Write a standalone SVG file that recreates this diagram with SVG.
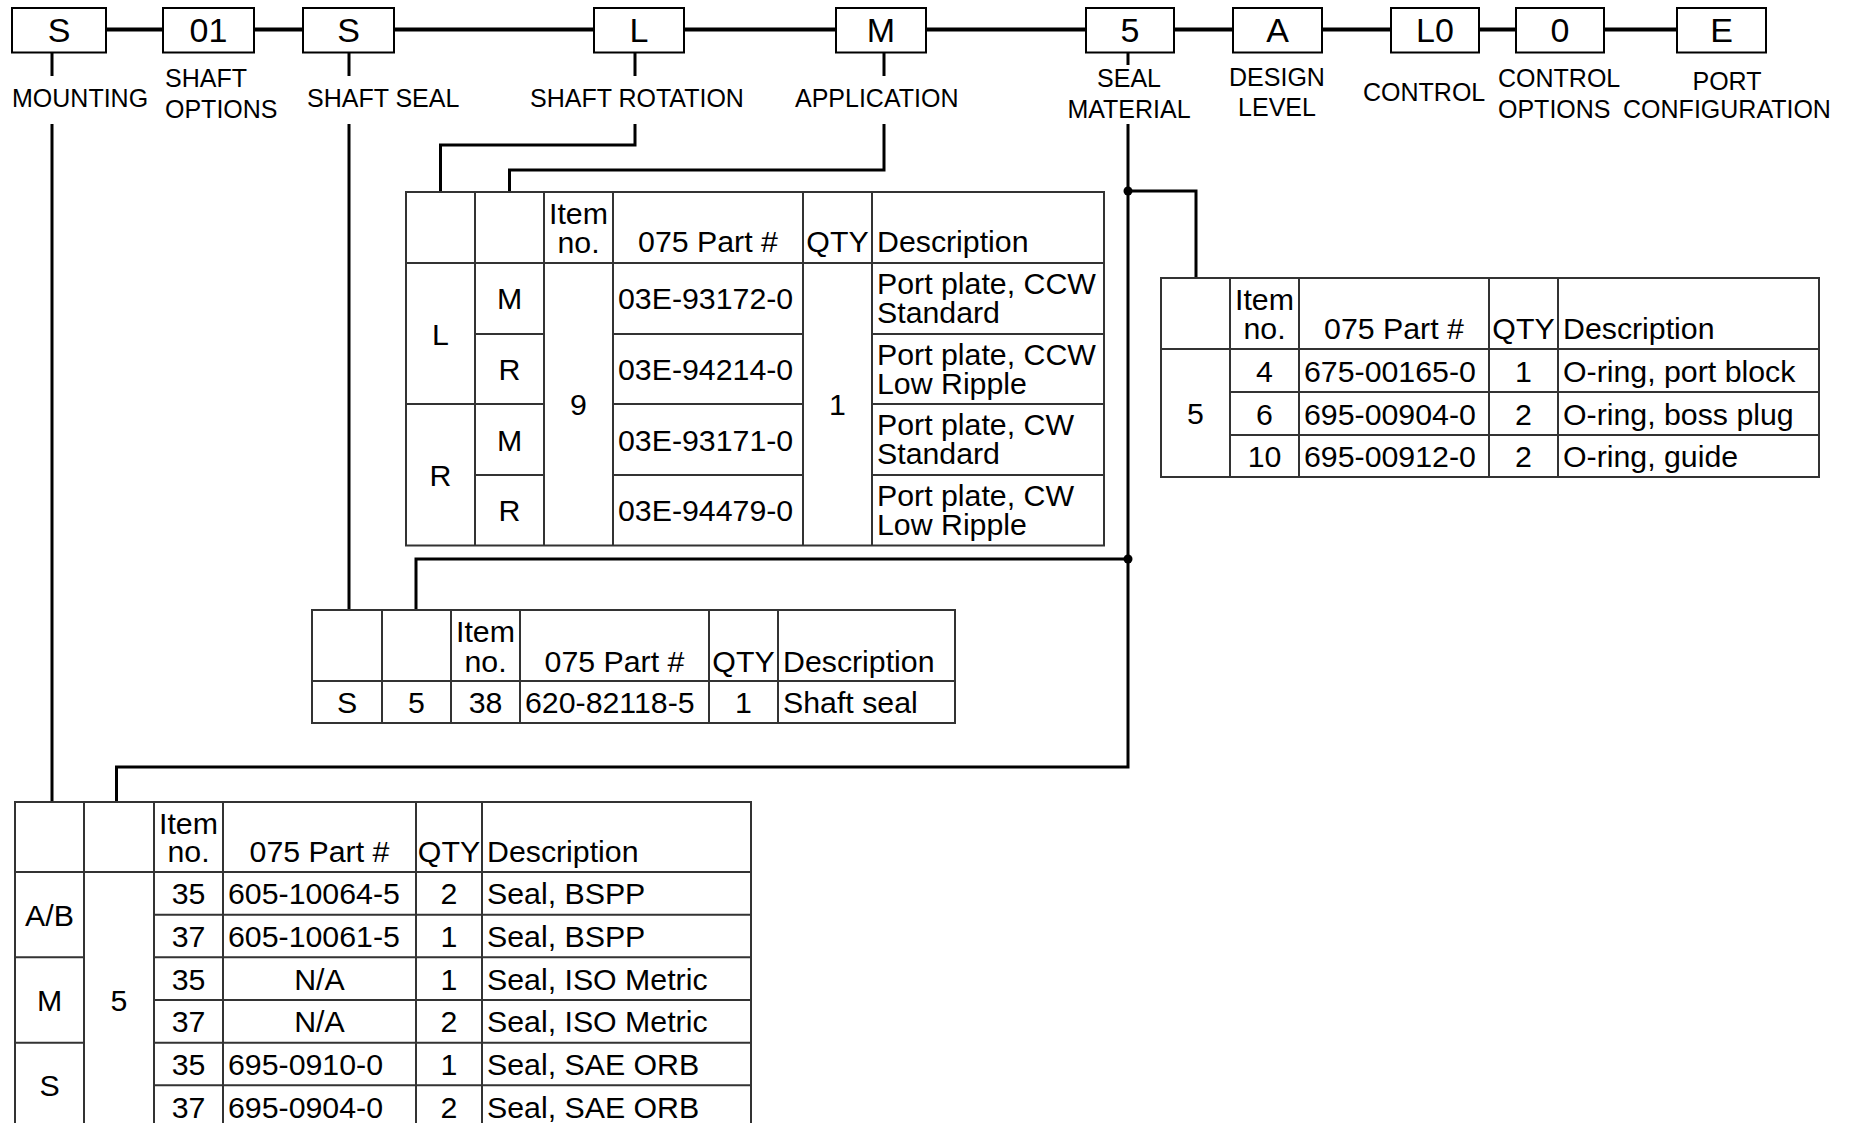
<svg xmlns="http://www.w3.org/2000/svg" width="1854" height="1123" viewBox="0 0 1854 1123">
<style>
text{font-family:"Liberation Sans",Arial,Helvetica,sans-serif;fill:#000}
.bt{font-size:34px;text-anchor:middle}
.lb{font-size:25px}
.c{text-anchor:middle}
.t{font-size:30.3px}
.box{fill:#fff;stroke:#000;stroke-width:2}
.tb{fill:#fff;stroke:#333;stroke-width:2}
.tl{fill:none;stroke:#333;stroke-width:2}
.cn{fill:none;stroke:#000;stroke-width:3}
.bus{fill:none;stroke:#000;stroke-width:4}
</style>
<rect width="1854" height="1123" fill="#fff"/>
<g id="connectors">
<path class="bus" d="M106,29.5 H1677"/>
<path class="cn" d="M52,52 V76 M349,52 V76 M635,52 V76 M884,52 V76 M1128,52 V65"/>
<path class="cn" d="M52,124 V802"/>
<path class="cn" d="M349,124 V610"/>
<path class="cn" d="M635,124 V145 H440.5 V192"/>
<path class="cn" d="M884,124 V170 H509.5 V192"/>
<path class="cn" d="M1128,124 V767 H116.5 V802"/>
<path class="cn" d="M1128,191 H1196 V278"/>
<path class="cn" d="M1128,559 H416 V610"/>
<circle cx="1128" cy="191" r="4.5" fill="#000"/>
<circle cx="1128" cy="559" r="4.5" fill="#000"/>
</g>
<g id="node-mounting"><rect class="box" x="12" y="8" width="94" height="44.5"/><text class="bt" x="59" y="41.5">S</text><text class="lb" x="12" y="107">MOUNTING</text></g>
<g id="node-shaft-options"><rect class="box" x="163" y="8" width="91" height="44.5"/><text class="bt" x="208.5" y="41.5">01</text><text class="lb" x="165" y="87">SHAFT</text><text class="lb" x="165" y="118">OPTIONS</text></g>
<g id="node-shaft-seal"><rect class="box" x="303" y="8" width="91" height="44.5"/><text class="bt" x="348.5" y="41.5">S</text><text class="lb" x="307" y="107">SHAFT SEAL</text></g>
<g id="node-shaft-rotation"><rect class="box" x="594" y="8" width="90" height="44.5"/><text class="bt" x="639" y="41.5">L</text><text class="lb" x="530" y="107">SHAFT ROTATION</text></g>
<g id="node-application"><rect class="box" x="836" y="8" width="90" height="44.5"/><text class="bt" x="881" y="41.5">M</text><text class="lb" x="795" y="107">APPLICATION</text></g>
<g id="node-seal-material"><rect class="box" x="1086" y="8" width="88" height="44.5"/><text class="bt" x="1130" y="41.5">5</text><text class="lb c" x="1129" y="87">SEAL</text><text class="lb c" x="1129" y="118">MATERIAL</text></g>
<g id="node-design-level"><rect class="box" x="1233" y="8" width="89" height="44.5"/><text class="bt" x="1277.5" y="41.5">A</text><text class="lb c" x="1277" y="86">DESIGN</text><text class="lb c" x="1277" y="116">LEVEL</text></g>
<g id="node-control"><rect class="box" x="1391" y="8" width="88" height="44.5"/><text class="bt" x="1435" y="41.5">L0</text><text class="lb" x="1363" y="101">CONTROL</text></g>
<g id="node-control-options"><rect class="box" x="1516" y="8" width="88" height="44.5"/><text class="bt" x="1560" y="41.5">0</text><text class="lb" x="1498" y="87">CONTROL</text><text class="lb" x="1498" y="118">OPTIONS</text></g>
<g id="node-port-configuration"><rect class="box" x="1677" y="8" width="89" height="44.5"/><text class="bt" x="1721.5" y="41.5">E</text><text class="lb c" x="1727" y="90">PORT</text><text class="lb c" x="1727" y="118">CONFIGURATION</text></g>

<g id="table-port-plate" class="t">
<rect class="tb" x="406" y="192" width="698" height="353.5"/>
<path class="tl" d="M475,192 V545.5 M544,192 V545.5 M613,192 V545.5 M803,192 V545.5 M872,192 V545.5 M406,263 H1104 M406,404 H475 M475,334 H544 M475,404 H544 M475,475 H544 M613,334 H803 M613,404 H803 M613,475 H803 M872,334 H1104 M872,404 H1104 M872,475 H1104"/>
<text class="c" x="578.5" y="224">Item</text><text class="c" x="578.5" y="253">no.</text>
<text class="c" x="708" y="252">075 Part #</text><text class="c" x="837.5" y="252">QTY</text><text x="877" y="252">Description</text>
<text class="c" x="440.5" y="344.5">L</text><text class="c" x="440.5" y="486">R</text>
<text class="c" x="509.5" y="309">M</text><text class="c" x="509.5" y="379.5">R</text><text class="c" x="509.5" y="450.5">M</text><text class="c" x="509.5" y="520.5">R</text>
<text class="c" x="578.5" y="415">9</text><text class="c" x="837.5" y="415">1</text>
<text x="618" y="309">03E-93172-0</text><text x="618" y="379.5">03E-94214-0</text><text x="618" y="450.5">03E-93171-0</text><text x="618" y="520.5">03E-94479-0</text>
<text x="877" y="294">Port plate, CCW</text><text x="877" y="323">Standard</text>
<text x="877" y="365">Port plate, CCW</text><text x="877" y="394">Low Ripple</text>
<text x="877" y="435">Port plate, CW</text><text x="877" y="464">Standard</text>
<text x="877" y="506">Port plate, CW</text><text x="877" y="535">Low Ripple</text>
</g>

<g id="table-seal-material" class="t">
<rect class="tb" x="1161" y="278" width="658" height="199"/>
<path class="tl" d="M1230,278 V477 M1299,278 V477 M1489,278 V477 M1558,278 V477 M1161,349 H1819 M1230,392 H1819 M1230,435 H1819"/>
<text class="c" x="1264.5" y="310">Item</text><text class="c" x="1264.5" y="339">no.</text>
<text class="c" x="1394" y="339">075 Part #</text><text class="c" x="1523.5" y="339">QTY</text><text x="1563" y="339">Description</text>
<text class="c" x="1195.5" y="424">5</text>
<text class="c" x="1264.5" y="381.5">4</text><text x="1304" y="381.5">675-00165-0</text><text class="c" x="1523.5" y="381.5">1</text><text x="1563" y="381.5">O-ring, port block</text>
<text class="c" x="1264.5" y="424.5">6</text><text x="1304" y="424.5">695-00904-0</text><text class="c" x="1523.5" y="424.5">2</text><text x="1563" y="424.5">O-ring, boss plug</text>
<text class="c" x="1264.5" y="467">10</text><text x="1304" y="467">695-00912-0</text><text class="c" x="1523.5" y="467">2</text><text x="1563" y="467">O-ring, guide</text>
</g>

<g id="table-shaft-seal" class="t">
<rect class="tb" x="312" y="610" width="643" height="113"/>
<path class="tl" d="M382,610 V723 M451,610 V723 M520,610 V723 M709,610 V723 M778,610 V723 M312,681 H955"/>
<text class="c" x="485.5" y="642">Item</text><text class="c" x="485.5" y="671.5">no.</text>
<text class="c" x="614.5" y="671.5">075 Part #</text><text class="c" x="743.5" y="671.5">QTY</text><text x="783" y="671.5">Description</text>
<text class="c" x="347" y="713">S</text><text class="c" x="416.5" y="713">5</text><text class="c" x="485.5" y="713">38</text><text x="525" y="713">620-82118-5</text><text class="c" x="743.5" y="713">1</text><text x="783" y="713">Shaft seal</text>
</g>

<g id="table-mounting" class="t">
<rect class="tb" x="15" y="802" width="736" height="330"/>
<path class="tl" d="M84,802 V1132 M154,802 V1132 M223,802 V1132 M416,802 V1132 M482,802 V1132 M15,872 H751 M15,957.3 H84 M15,1042.7 H84 M154,914.7 H751 M154,957.3 H751 M154,1000 H751 M154,1042.7 H751 M154,1085.3 H751"/>
<text class="c" x="188.5" y="834">Item</text><text class="c" x="188.5" y="862">no.</text>
<text class="c" x="319.5" y="862">075 Part #</text><text class="c" x="449" y="862">QTY</text><text x="487" y="862">Description</text>
<text class="c" x="49.5" y="925.7">A/B</text><text class="c" x="49.5" y="1011">M</text><text class="c" x="49.5" y="1096">S</text>
<text class="c" x="119" y="1011">5</text>
<text class="c" x="188.5" y="904.3">35</text><text x="228" y="904.3">605-10064-5</text><text class="c" x="449" y="904.3">2</text><text x="487" y="904.3">Seal, BSPP</text>
<text class="c" x="188.5" y="947">37</text><text x="228" y="947">605-10061-5</text><text class="c" x="449" y="947">1</text><text x="487" y="947">Seal, BSPP</text>
<text class="c" x="188.5" y="989.7">35</text><text class="c" x="319.5" y="989.7">N/A</text><text class="c" x="449" y="989.7">1</text><text x="487" y="989.7">Seal, ISO Metric</text>
<text class="c" x="188.5" y="1032.3">37</text><text class="c" x="319.5" y="1032.3">N/A</text><text class="c" x="449" y="1032.3">2</text><text x="487" y="1032.3">Seal, ISO Metric</text>
<text class="c" x="188.5" y="1075">35</text><text x="228" y="1075">695-0910-0</text><text class="c" x="449" y="1075">1</text><text x="487" y="1075">Seal, SAE ORB</text>
<text class="c" x="188.5" y="1117.7">37</text><text x="228" y="1117.7">695-0904-0</text><text class="c" x="449" y="1117.7">2</text><text x="487" y="1117.7">Seal, SAE ORB</text>
</g>
</svg>
